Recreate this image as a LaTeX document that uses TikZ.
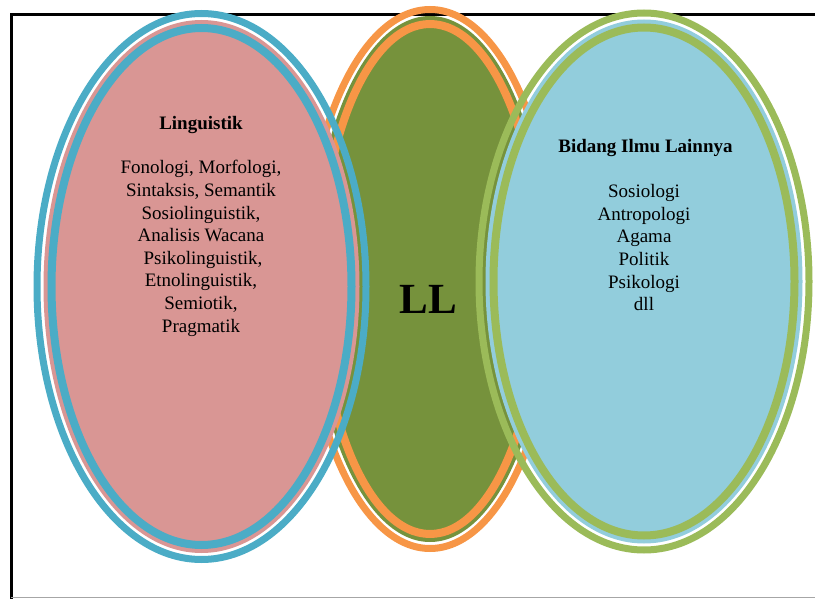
\documentclass[tikz,border=0pt]{standalone}
\usepackage{fontspec}
\setmainfont{Liberation Serif}
\definecolor{pinkfill}{HTML}{D99694}
\definecolor{bluering}{HTML}{4BACC6}
\definecolor{darkgreen}{HTML}{76923C}
\definecolor{orangering}{HTML}{F79646}
\definecolor{lightblue}{HTML}{92CDDC}
\definecolor{lightgreen}{HTML}{9BBB59}
\tikzset{
  outerring/.style={line width=7pt},
  innerring/.style={line width=8pt},
  body/.style={font=\fontsize{19}{23}\selectfont, anchor=base, inner sep=0pt},
  title/.style={font=\fontsize{19}{23}\selectfont\bfseries, anchor=base, inner sep=0pt},
}
\newcommand{\ringellipse}[6]{%
  % #1 x, #2 y, #3 rx, #4 ry, #5 ring colour, #6 fill colour
  \draw[outerring, draw=#5] (#1,#2) ellipse [x radius=#3, y radius=#4];
  \fill[#6] (#1,#2) ellipse [x radius=#3-6.5, y radius=#4-6.5];
  \draw[innerring, draw=#5] (#1,#2) ellipse [x radius=#3-14.5, y radius=#4-14.5];
}
\begin{document}
\begin{tikzpicture}[x=1pt,y=-1pt]
\useasboundingbox (0,0) rectangle (815,599);
% frame
\draw[line width=3pt, line cap=rect] (11,599) -- (11,15) -- (815,15);
\draw[line width=1pt, gray!70] (11,597.5) -- (815,597.5);
% middle ellipse
\ringellipse{430}{279}{124.5}{269.5}{orangering}{darkgreen}
% left ellipse
\ringellipse{201.5}{286.5}{164.5}{273}{bluering}{pinkfill}
% right ellipse
\ringellipse{644}{281.5}{165}{268.5}{lightgreen}{lightblue}
% texts
\node[title] (lt) at (201,130) {Linguistik};
\node[body] (l1) at (201,174) {Fonologi, Morfologi,};
\node[body] (l2) at (201,196.6) {Sintaksis, Semantik};
\node[body] (l3) at (201,219.2) {Sosiolinguistik,};
\node[body] (l4) at (201,241.8) {Analisis Wacana};
\node[body] (l5) at (203,264.4) {Psikolinguistik,};
\node[body] (l6) at (201,287) {Etnolinguistik,};
\node[body] (l7) at (201,309.6) {Semiotik,};
\node[body] (l8) at (201,332.2) {Pragmatik};
\node[font=\fontsize{43}{50}\selectfont\bfseries, anchor=base, inner sep=0pt] (ll) at (428,313) {LL};
\node[title] (rt) at (645.5,153) {Bidang Ilmu Lainnya};
\node[body] (r1) at (644,198) {Sosiologi};
\node[body] (r2) at (644,220.5) {Antropologi};
\node[body] (r3) at (644,243) {Agama};
\node[body] (r4) at (644,265.5) {Politik};
\node[body] (r5) at (644,288) {Psikologi};
\node[body] (r6) at (644,310.5) {dll};
\end{tikzpicture}
\end{document}
